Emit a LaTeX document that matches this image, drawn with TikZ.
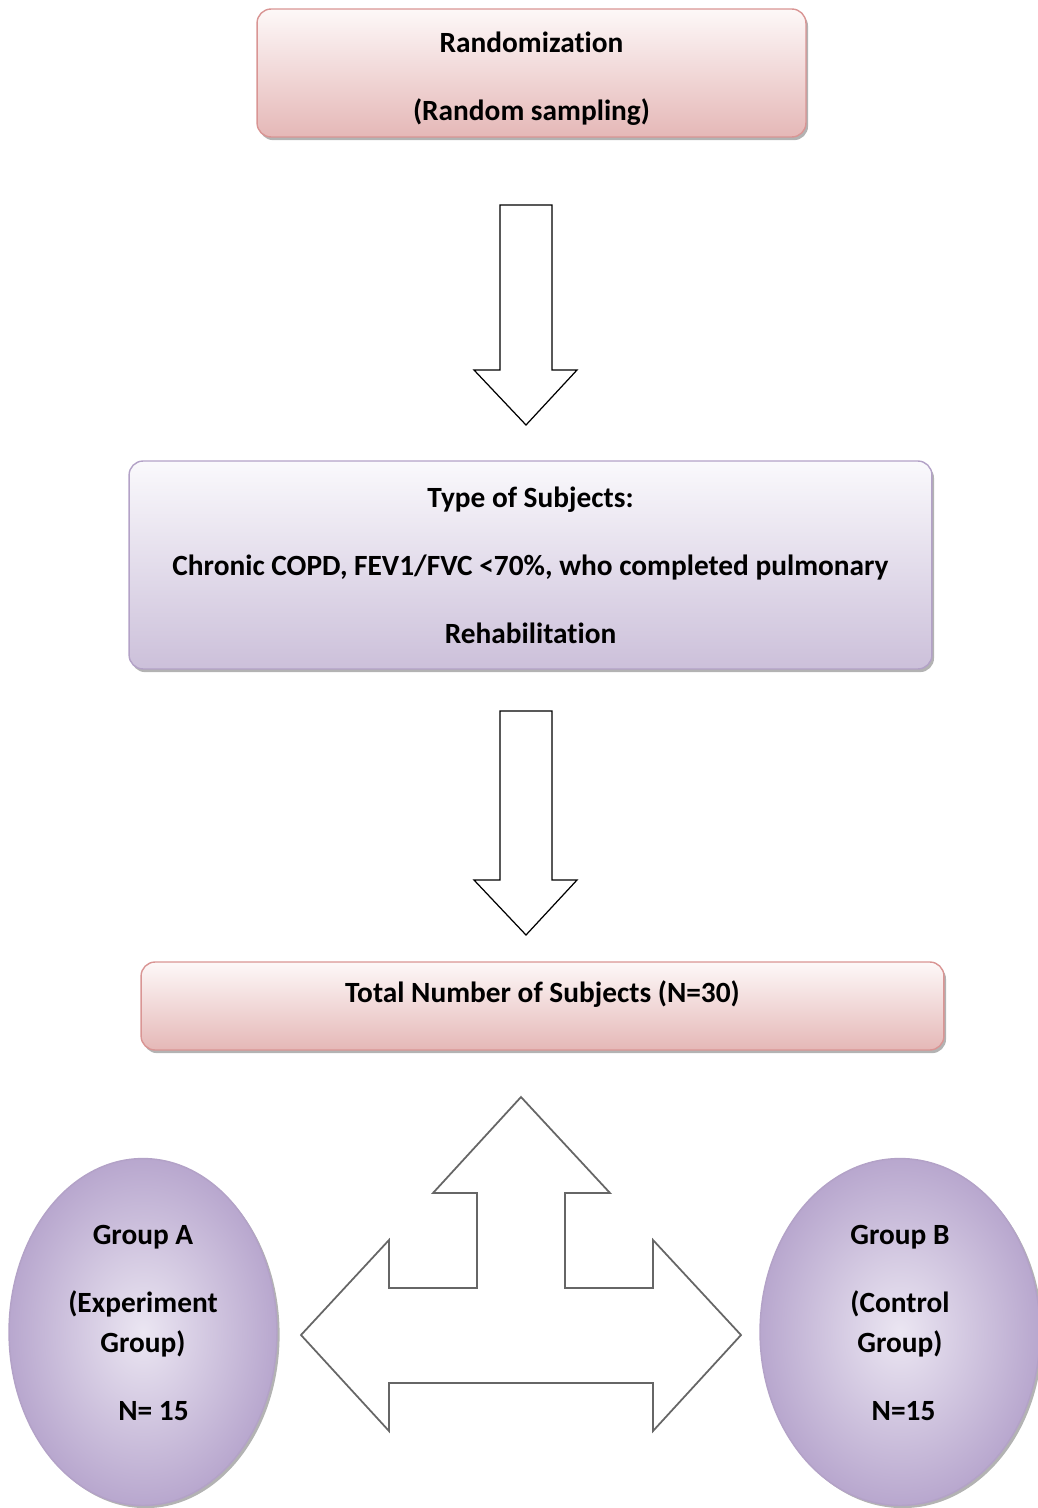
\documentclass[tikz,border=0pt]{standalone}
\usepackage{fontspec}
\setmainfont[Ligatures=NoCommon]{Carlito}
\usepackage{xcolor}
\usepackage{tikz}
\usetikzlibrary{positioning, shapes.geometric, shadows}
\definecolor{pinkline}{HTML}{D99594}
\definecolor{pinktop}{HTML}{FDF8F8}
\definecolor{pinkbot}{HTML}{E5B8B7}
\definecolor{lilacline}{HTML}{B3A2C7}
\definecolor{lilactop}{HTML}{FAF9FC}
\definecolor{lilacbot}{HTML}{CCC0DA}
\definecolor{ovalin}{HTML}{EBE6F2}
\definecolor{ovalout}{HTML}{B8A7CE}

\begin{document}
\begin{tikzpicture}[
    x=0.02cm, y=-0.02cm,
    every node/.style={
        align=center,
        font=\bfseries\fontsize{16.7}{22.8}\selectfont
    },
    pinkbox/.style={
        draw=pinkline,
        line width=0.8pt,
        rounded corners=8pt,
        top color=pinktop,
        bottom color=pinkbot,
        drop shadow={shadow xshift=1.2pt, shadow yshift=-1.8pt, fill=black!50, opacity=0.6}
    },
    lilacbox/.style={
        pinkbox,
        draw=lilacline,
        top color=lilactop,
        bottom color=lilacbot
    },
    groupoval/.style={
        ellipse,
        draw=lilacline,
        line width=0.8pt,
        inner color=ovalin,
        outer color=ovalout,
        minimum width=5.36cm,
        minimum height=6.94cm,
        drop shadow={shadow xshift=1.5pt, shadow yshift=-1.5pt, fill=black!50, opacity=0.6}
    },
    hollowarrow/.style={draw=black, line width=0.7pt, fill=white, line join=miter},
    splitarrow/.style={draw=black!60, line width=1pt, fill=white, line join=miter}
]

\useasboundingbox (0,0) rectangle (1038,1508);

\node[pinkbox, minimum width=10.98cm, minimum height=2.56cm, text height=57pt] (rand) at (531.5,73)
    {Randomization\\[15.9pt](Random sampling)};
\node[lilacbox, minimum width=16.06cm, minimum height=4.16cm] (subj) at (530.5,565)
    {Type of Subjects:\\[15.9pt]Chronic COPD, FEV1/FVC <70\%, who completed pulmonary\\[15.9pt]Rehabilitation};
\node[pinkbox, minimum width=16.06cm, minimum height=1.76cm, text depth=16pt] (total) at (542.5,1006)
    {Total Number of Subjects (N=30)};

\node[groupoval, text depth=10pt] (grpA) at (143,1332)
    {Group A\\[15.9pt](Experiment\\Group)\\[15.9pt]\hspace*{12pt}N= 15};
\node[groupoval, minimum width=5.6cm, text depth=10pt] (grpB) at (900,1332)
    {Group B\\[15.9pt](Control\\Group)\\[15.9pt]\hspace*{4pt}N=15};

\coordinate (down1) at (526,205);
\coordinate (down2) at (526,711);

\draw[hollowarrow] (down1) ++(-26,0) -- ++(52,0) -- ++(0,165) -- ++(25,0) -- ++(-51,55) -- ++(-52,-55) -- ++(26,0) -- cycle;
\draw[hollowarrow] (down2) ++(-26,0) -- ++(52,0) -- ++(0,169) -- ++(25,0) -- ++(-51,55) -- ++(-52,-55) -- ++(26,0) -- cycle;

\draw[splitarrow] (521,1097) -- (610,1193) -- (565,1193) -- (565,1288) -- (653,1288) -- (653,1240)
    -- (741,1335) -- (653,1431) -- (653,1383) -- (389,1383) -- (389,1431) -- (301,1335)
    -- (389,1240) -- (389,1288) -- (477,1288) -- (477,1193) -- (433,1193) -- cycle;

\end{tikzpicture}
\end{document}
